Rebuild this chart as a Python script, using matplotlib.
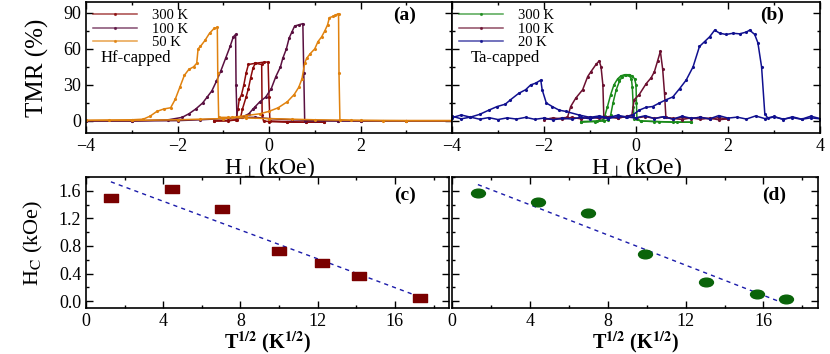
import matplotlib
matplotlib.use("Agg")
import matplotlib.pyplot as plt
from matplotlib.path import Path
from matplotlib.transforms import Affine2D
from matplotlib.ticker import MultipleLocator

plt.rcParams['font.family'] = ['Liberation Serif', 'DejaVu Serif']
plt.rcParams['mathtext.fontset'] = 'stix'

# ---- panel (a): Hf-capped TMR loops ----
a300_h_dn = [1.2, 0.8, 0.4, 0.0, -0.12, -0.15, -0.16, -0.3, -0.45, -0.5, -0.55, -0.6, -0.65, -0.68, -0.72, -0.9, -1.2]
a300_t_dn = [-1, -1, -1, -0.5, 0, 5, 47, 48, 47, 40, 30, 22, 18, 10, 1, 0, 0]
a300_h_up = [-1.2, -0.9, -0.7, -0.62, -0.58, -0.5, -0.45, -0.4, -0.35, -0.3, -0.1, -0.02, 0.0, 0.02, 0.4, 0.8, 1.2]
a300_t_up = [0, 0.5, 1, 3, 10, 20, 27, 36, 44, 48, 49, 49, 20, 0, -0.5, -1, -1]

a100_h_dn = [4, 3, 2, 1.5, 1.0, 0.5, 0.0, -0.3, -0.6, -0.7, -0.72, -0.73, -0.78, -0.85, -0.95, -1.05,
             -1.15, -1.25, -1.35, -1.45, -1.6, -1.75, -1.9, -2.2, -3, -4]
a100_t_dn = [0, 0, 0, 0.2, 0.5, 1, 2, 3, 3, 3, 30, 72, 70, 62, 52, 42, 33, 25, 20, 15, 10, 6, 3, 1, 0, 0]
a100_h_up = [-4, -3, -2, -1.5, -1.0, -0.6, -0.44, -0.35, -0.3, -0.2, -0.07, 0.05, 0.15, 0.25, 0.3, 0.38,
             0.44, 0.5, 0.56, 0.65, 0.74, 0.76, 0.78, 1.0, 1.5, 2, 3, 4]
a100_t_up = [0, 0, 0.3, 1, 2, 3, 6, 10, 12, 16, 20, 27, 37, 45, 52, 60, 69, 74, 79, 80, 81, 40, 0, 0, 0, 0, 0, 0]

a50_h_dn = [4, 3, 2, 1, 0.5, 0, -0.5, -0.9, -1.1, -1.12, -1.13, -1.2, -1.3, -1.4, -1.5, -1.55, -1.58,
            -1.65, -1.75, -1.85, -1.95, -2.05, -2.15, -2.3, -2.45, -2.6, -2.75, -3, -3.5, -4]
a50_t_dn = [0.3, 0.3, 0.5, 1, 1.5, 2, 2.5, 3, 3, 40, 78, 77, 73, 67, 62, 60, 48, 45, 43, 38, 28, 18, 11,
            10, 8, 4, 1.5, 1, 0.8, 0.5]
a50_h_up = [-4, -3, -2, -1.5, -1.0, -0.8, -0.5, -0.2, 0.0, 0.2, 0.4, 0.55, 0.65, 0.72, 0.78, 0.82, 0.9,
            1.0, 1.07, 1.15, 1.22, 1.28, 1.32, 1.4, 1.45, 1.5, 1.52, 1.53, 1.55, 1.8, 2.5, 3, 4]
a50_t_up = [0.5, 0.5, 1, 1.5, 2, 3, 4.5, 6, 8, 11, 16, 22, 28, 35, 48, 52, 56, 60, 66, 70, 75, 80, 86,
            87, 88, 89, 89, 40, 1, 0.5, 0.3, 0.3, 0.3]

# ---- panel (b): Ta-capped TMR loops ----
b300_h_dn = [1.2, 0.8, 0.4, 0.1, 0.02, 0.01, 0.0, -0.03, -0.08, -0.15, -0.25, -0.33, -0.4, -0.48,
             -0.55, -0.62, -0.68, -0.72, -0.85, -1.2]
b300_t_dn = [-1, -1, -0.5, 0, 2, 15, 30, 35, 37.5, 38.5, 38.5, 37.5, 35, 30, 22, 12, 4, 1, 0, -0.5]
b300_h_up = [-1.2, -0.9, -0.7, -0.6, -0.55, -0.5, -0.43, -0.36, -0.3, -0.22, -0.15, -0.1, -0.08,
             -0.06, -0.04, 0.1, 0.5, 0.9, 1.2]
b300_t_up = [-1, -0.5, 0, 1, 5, 15, 26, 33, 37, 38.5, 38, 35, 28, 12, 2, 0, -0.5, -1, -1]

b100_h_dn = [2.0, 1.8, 1.6, 1.4, 1.2, 1.0, 0.8, 0.6, 0.4, 0.2, 0.0, -0.2, -0.4, -0.6, -0.7, -0.72,
             -0.76, -0.8, -0.87, -0.98, -1.05, -1.16, -1.31, -1.42, -1.49, -1.6, -1.8, -2.0]
b100_t_dn = [1.5, 2.8, 1.6, 3.2, 2.0, 3.0, 1.8, 3.4, 2.2, 3.6, 2.5, 3.8, 2.4, 3.5, 3.6, 30, 45, 50,
             47, 41, 37, 26, 19, 12, 3, 2.6, 1.4, 2.2]
b100_h_up = [-2.0, -1.8, -1.6, -1.4, -1.2, -1.0, -0.8, -0.6, -0.4, -0.2, -0.09, -0.04, 0.07, 0.22,
             0.33, 0.4, 0.47, 0.53, 0.58, 0.62, 0.65, 0.8, 1.0, 1.2, 1.4, 1.6, 1.8, 2.0]
b100_t_up = [1.2, 2.6, 1.5, 3.0, 1.8, 3.3, 2.1, 3.6, 2.4, 3.8, 5, 17.6, 22, 31, 36, 41, 50, 58, 43,
             23, 3, 2.2, 1.2, 2.6, 1.4, 2.4, 1.0, 1.8]

b20_h_dn = [4.0, 3.8, 3.6, 3.4, 3.2, 3.0, 2.8, 2.6, 2.4, 2.2, 2.0, 1.8, 1.6, 1.4, 1.2, 1.0, 0.8, 0.6,
            0.4, 0.2, 0.0, -0.2, -0.4, -0.6, -0.8, -1.0, -1.24, -1.53, -1.67, -1.82, -1.95, -2.04,
            -2.07, -2.18, -2.29, -2.4, -2.55, -2.73, -2.84, -3.02, -3.2, -3.4, -3.6, -3.8, -4.0]
b20_t_dn = [2.0, 4.0, 1.5, 3.5, 1.2, 3.8, 2.0, 4.2, 1.6, 3.2, 2.4, 4.5, 1.8, 3.0, 2.2, 4.0, 1.5, 3.6,
            2.0, 4.4, 2.6, 3.2, 4.8, 2.8, 4.2, 3.0, 5, 8, 9, 12, 15, 26, 34, 31.5, 30, 26, 23, 17.6,
            14, 12, 9, 5.5, 3.2, 5.0, 2.8]
b20_h_up = [-4.0, -3.8, -3.6, -3.4, -3.2, -3.0, -2.8, -2.6, -2.4, -2.2, -2.0, -1.8, -1.6, -1.4, -1.2,
            -1.0, -0.8, -0.6, -0.4, -0.22, -0.07, 0.07, 0.22, 0.36, 0.51, 0.65, 0.8, 0.95, 1.09, 1.24,
            1.38, 1.49, 1.6, 1.71, 1.82, 1.96, 2.11, 2.25, 2.4, 2.47, 2.58, 2.65, 2.73, 2.8, 2.87,
            3.0, 3.2, 3.4, 3.6, 3.8, 4.0]
b20_t_up = [4.0, 1.8, 3.2, 1.5, 2.8, 1.2, 2.6, 1.6, 3.0, 1.4, 2.4, 1.0, 2.2, 1.6, 3.0, 1.8, 3.4, 2.0,
            3.6, 3.6, 5, 9, 11.4, 12, 15, 17.6, 20, 27, 34, 45, 62, 66, 70, 75.6, 73, 72, 73, 72.5, 74,
            75.6, 72, 65, 45, 6, 2.2, 3.4, 1.6, 2.8, 1.4, 2.6, 1.8]

# ---- panels (c), (d): coercive field vs sqrt(T) ----
c_x = [1.29, 4.43, 7.02, 9.97, 12.2, 14.14, 17.28]
c_y = [1.49, 1.62, 1.34, 0.72, 0.55, 0.36, 0.05]
c_fit_x = [1.29, 17.3]
c_fit_y = [1.73, 0.06]

d_x = [1.33, 4.43, 7.01, 9.9, 13.07, 15.66, 17.14]
d_y = [1.57, 1.44, 1.28, 0.68, 0.28, 0.105, 0.03]
d_fit_x = [1.33, 16.85]
d_fit_y = [1.69, -0.01]

col_a = ['#8b0a0a', '#5a1040', '#e0820f']
col_b = ['#1a8a1a', '#6b1030', '#10108f']
lab_a = ['300 K', '100 K', '50 K']
lab_b = ['300 K', '100 K', '20 K']

W, H = 830, 354
fig = plt.figure(figsize=(W / 100, H / 100), dpi=100)


def box(x0, y0, x1, y1):
    return [x0 / W, 1 - y1 / H, (x1 - x0) / W, (y1 - y0) / H]


ax_a = fig.add_axes(box(86, 2, 452, 133))
ax_b = fig.add_axes(box(452, 2, 820, 133))
ax_c = fig.add_axes(box(86, 177, 449, 308))
ax_d = fig.add_axes(box(452, 177, 818, 308))


def style(ax):
    for s in ax.spines.values():
        s.set_linewidth(1.2)
    ax.tick_params(which='both', direction='in', top=True, right=True, labelsize=13, width=1.0)
    ax.tick_params(which='major', length=5)
    ax.tick_params(which='minor', length=2.5)


def loops(ax, data, cols, labs):
    handles = []
    for (hd, td, hu, tu), c, lab in zip(data, cols, labs):
        ax.plot(hd, td, color=c, lw=1.1, marker='.', ms=2.5)
        ax.plot(hu, tu, color=c, lw=1.1, marker='.', ms=2.5)
        handles.append(plt.Line2D([], [], color=c, alpha=0.75, lw=1.1, marker='.', ms=2.5, label=lab))
    ax.set_xlim(-4, 4)
    ax.set_ylim(-10, 99)
    ax.yaxis.set_major_locator(MultipleLocator(30))
    ax.yaxis.set_minor_locator(MultipleLocator(15))
    ax.xaxis.set_minor_locator(MultipleLocator(1))
    ax.legend(handles=handles, loc='upper left', frameon=False, fontsize=10.5, handlelength=3.0,
              labelspacing=0.02, borderaxespad=0.0, borderpad=0.5, handletextpad=1.0)
    ax.set_xlabel(r'H$_\perp$(kOe)', fontsize=17, labelpad=0)
    style(ax)


loops(ax_a, [(a300_h_dn, a300_t_dn, a300_h_up, a300_t_up),
             (a100_h_dn, a100_t_dn, a100_h_up, a100_t_up),
             (a50_h_dn, a50_t_dn, a50_h_up, a50_t_up)], col_a, lab_a)
loops(ax_b, [(b300_h_dn, b300_t_dn, b300_h_up, b300_t_up),
             (b100_h_dn, b100_t_dn, b100_h_up, b100_t_up),
             (b20_h_dn, b20_t_dn, b20_h_up, b20_t_up)], col_b, lab_b)
ax_a.set_xticks([-4, -2, 0, 2])
ax_b.set_yticklabels([])
ax_a.set_ylabel('TMR (%)', fontsize=18, labelpad=10)
ax_a.text(0.04, 0.57, 'Hf-capped', transform=ax_a.transAxes, fontsize=12, va='center')
ax_b.text(0.05, 0.57, 'Ta-capped', transform=ax_b.transAxes, fontsize=12, va='center')
ax_a.text(0.87, 0.9, '(a)', transform=ax_a.transAxes, fontsize=14, fontweight='bold', ha='center', va='center')
ax_b.text(0.87, 0.9, '(b)', transform=ax_b.transAxes, fontsize=14, fontweight='bold', ha='center', va='center')

sq = Path.unit_rectangle().transformed(Affine2D().translate(-0.5, -0.5).scale(1.6, 1.0))
ell = Path.unit_circle().transformed(Affine2D().scale(1.6, 1.0))

ax_c.plot(c_fit_x, c_fit_y, ls=(0, (3, 3)), color='#1a1aaa', lw=1.0)
ax_c.plot(c_x, c_y, ls='none', marker=sq, ms=9.5, color='#7a0000')
ax_d.plot(d_fit_x, d_fit_y, ls=(0, (3, 3)), color='#1a1aaa', lw=1.0)
ax_d.plot(d_x, d_y, ls='none', marker=ell, ms=10, color='#0a640a')

for ax, lab in [(ax_c, '(c)'), (ax_d, '(d)')]:
    ax.set_xlim(0, 18.8)
    ax.set_ylim(-0.1, 1.8)
    ax.set_xticks([0, 4, 8, 12, 16])
    ax.xaxis.set_minor_locator(MultipleLocator(2))
    ax.yaxis.set_major_locator(MultipleLocator(0.4))
    ax.yaxis.set_minor_locator(MultipleLocator(0.2))
    ax.set_xlabel(r'T$^{\mathbf{1/2}}$ (K$^{\mathbf{1/2}}$)', fontsize=14.5, fontweight='bold', labelpad=0)
    ax.text(0.88, 0.86, lab, transform=ax.transAxes, fontsize=14, fontweight='bold', ha='center', va='center')
    style(ax)
ax_c.yaxis.set_major_formatter(lambda v, p: f'{v:.1f}')
ax_d.set_yticklabels([])
ax_c.set_ylabel(r'H$_\mathrm{C}$ (kOe)', fontsize=16, labelpad=10)

fig.savefig('out.png', dpi=100)
